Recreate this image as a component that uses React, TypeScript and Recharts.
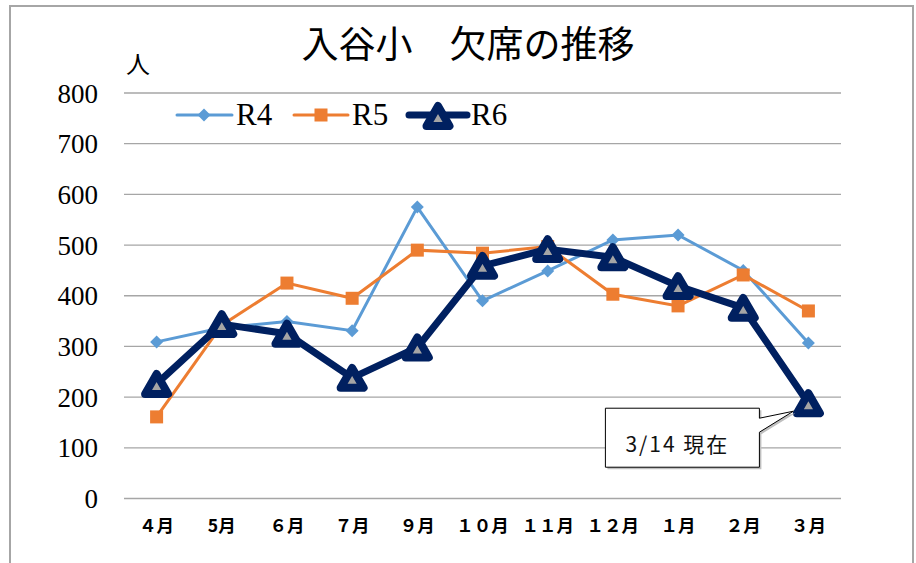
import React from 'react';
import { LineChart, Line, XAxis, YAxis, CartesianGrid, LabelList } from 'recharts';

const MONTHS = ['４月', '5月', '６月', '７月', '９月', '１０月', '１１月', '１２月', '１月', '２月', '３月'];
const R4 = [309, 337, 349, 331, 575, 390, 449, 510, 520, 450, 307];
const R5 = [161, 342, 425, 395, 490, 484, 497, 403, 380, 441, 370];
const R6 = [226, 344, 325, 238, 298, 459, 492, 476, 419, 376, 188];
const Y_TICKS = [0, 100, 200, 300, 400, 500, 600, 700, 800];
const SERIES_NAMES = ['R4', 'R5', 'R6'];
const TITLE = '入谷小　欠席の推移';
const UNIT = '人';
const NOTE = '3/14 現在';

const C4 = '#5B9BD5';
const C5 = '#ED7D31';
const C6 = '#002060';
const GRAY = '#A5A5A5';

const rows = MONTHS.map((m, i) => ({ month: m, r4: R4[i], r5: R5[i], r6: R6[i] }));

const diamond = (cx: number, cy: number, r = 6.5) =>
  `M${cx},${cy - r}L${cx + r},${cy}L${cx},${cy + r}L${cx - r},${cy}Z`;

const triangle = (cx: number, cy: number, s = 23) => {
  const h = s * 0.866;
  return `M${cx},${cy - h / 2}L${cx + s / 2},${cy + h / 2}L${cx - s / 2},${cy + h / 2}Z`;
};

const DiamondDot = (p: any) => {
  if (p.cx == null) return null;
  return <path key={`d4-${p.index}`} d={diamond(p.cx, p.cy)} fill={C4} />;
};

const SquareDot = (p: any) => {
  if (p.cx == null) return null;
  return <rect key={`d5-${p.index}`} x={p.cx - 6.5} y={p.cy - 6.5} width={13} height={13} fill={C5} />;
};

const TriangleDot = (p: any) => {
  if (p.cx == null) return null;
  return (
    <path
      key={`d6-${p.index}`}
      d={triangle(p.cx, p.cy)}
      fill={GRAY}
      stroke={C6}
      strokeWidth={8}
      strokeLinejoin="round"
    />
  );
};

// callout box next to the last R6 point
const Callout = (p: any) => {
  if (p.index !== R6.length - 1) return null;
  const x = Number(p.x);
  const y = Number(p.y);
  const shape = (dx: number, dy: number) =>
    `M${x - 203 + dx},${y + 5 + dy}H${x - 49 + dx}V${y + 15 + dy}L${x - 15 + dx},${y + 8 + dy}` +
    `L${x - 49 + dx},${y + 29 + dy}V${y + 64 + dy}H${x - 203 + dx}Z`;
  return (
    <g>
      <path d={shape(2, 2)} fill="#BFBFBF" />
      <path d={shape(0, 0)} fill="#fff" stroke="#000" strokeWidth={1} />
      <text
        x={x - 183}
        y={y + 49}
        fontFamily="'Noto Sans CJK JP', sans-serif"
        fontSize={21}
        letterSpacing={2}
        fill="#111"
      >
        {NOTE}
      </text>
    </g>
  );
};

const MonthTick = (p: any) => (
  <text
    x={p.x}
    y={p.y + 12}
    textAnchor="middle"
    fontFamily="'Noto Sans CJK JP', sans-serif"
    fontSize={17.5}
    fontWeight={700}
    fill="#000"
  >
    {p.payload.value}
  </text>
);

const Legend = () => {
  const items = [
    { x: 177, w: 55, color: C4, lw: 3, mark: <path d={diamond(204, 115)} fill={C4} /> },
    { x: 294, w: 54, color: C5, lw: 3, mark: <rect x={314.5} y={108.5} width={13} height={13} fill={C5} /> },
    {
      x: 409,
      w: 58,
      color: C6,
      lw: 7,
      mark: <path d={triangle(438, 116)} fill={GRAY} stroke={C6} strokeWidth={8} strokeLinejoin="round" />,
    },
  ];
  return (
    <g>
      {items.map((it, i) => (
        <g key={SERIES_NAMES[i]}>
          <line x1={it.x} y1={115} x2={it.x + it.w} y2={115} stroke={it.color} strokeWidth={it.lw} strokeLinecap="round" />
          {it.mark}
          <text x={it.x + it.w + 4} y={125} fontFamily="'Liberation Serif', serif" fontSize={31} fill="#000">
            {SERIES_NAMES[i]}
          </text>
        </g>
      ))}
    </g>
  );
};

export default function App() {
  return (
    <div style={{ position: 'fixed', left: 0, top: 0, width: 916, height: 563, overflow: 'hidden', background: '#fff' }}>
      <div
        style={{
          position: 'absolute',
          left: 9,
          top: 5,
          width: 901,
          height: 600,
          border: '2px solid #A6A6A6',
          borderBottom: 'none',
        }}
      />
      <LineChart
        width={916}
        height={563}
        data={rows}
        margin={{ top: 93, right: 75, bottom: 34.5, left: 0 }}
        style={{ position: 'absolute', left: 0, top: 0 }}
      >
        <CartesianGrid vertical={false} stroke="#A6A6A6" strokeWidth={1.3} />
        <XAxis
          dataKey="month"
          height={30}
          axisLine={false}
          tickLine={false}
          tickSize={0}
          tickMargin={21}
          interval={0}
          padding={{ left: 32.6, right: 32.6 }}
          tick={MonthTick}
        />
        <YAxis
          width={124}
          domain={[0, 800]}
          ticks={Y_TICKS}
          axisLine={false}
          tickLine={false}
          tickSize={0}
          tickMargin={26}
          tick={{ fill: '#000', fontSize: 27, fontFamily: "'Liberation Serif', serif" }}
        />
        <Line type="linear" dataKey="r4" stroke={C4} strokeWidth={3} dot={DiamondDot} isAnimationActive={false} />
        <Line type="linear" dataKey="r5" stroke={C5} strokeWidth={3} dot={SquareDot} isAnimationActive={false} />
        <Line
          type="linear"
          dataKey="r6"
          stroke={C6}
          strokeWidth={7}
          strokeLinejoin="round"
          dot={TriangleDot}
          isAnimationActive={false}
        >
          <LabelList dataKey="r6" content={Callout} />
        </Line>
      </LineChart>
      <svg width={916} height={563} style={{ position: 'absolute', left: 0, top: 0, pointerEvents: 'none' }}>
        <text
          x={468}
          y={58}
          textAnchor="middle"
          fontFamily="'Noto Sans CJK JP', sans-serif"
          fontSize={37}
          fill="#000"
        >
          {TITLE}
        </text>
        <text x={126} y={73} fontFamily="'Noto Sans CJK JP', sans-serif" fontSize={24} fill="#000">
          {UNIT}
        </text>
        <Legend />
      </svg>
    </div>
  );
}
